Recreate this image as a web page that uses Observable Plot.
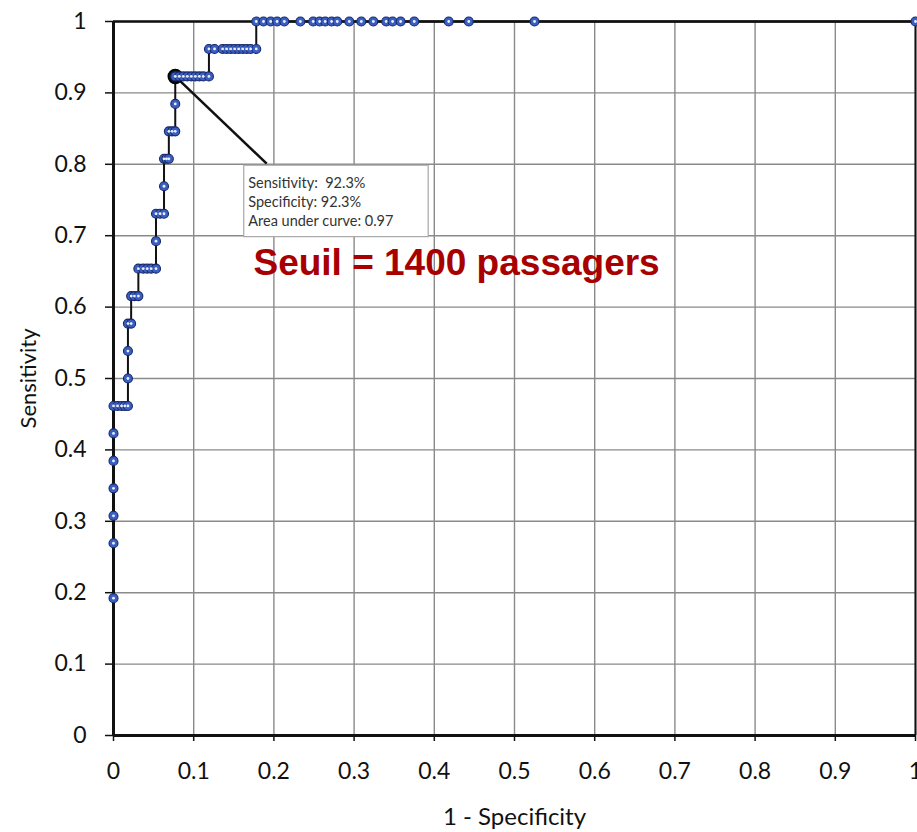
<!DOCTYPE html>
<html>
<head>
<meta charset="utf-8">
<script src="https://cdn.jsdelivr.net/npm/d3@7"></script>
<script src="https://cdn.jsdelivr.net/npm/@observablehq/plot@0.6"></script>
<style>
  html, body { margin: 0; padding: 0; background: #fff; }
  #chart { width: 917px; height: 832px; overflow: hidden; }
</style>
</head>
<body>
<div id="chart"></div>
<script>
// ---- Data ----
const nPositives = 26;
// 1 - specificity for each ROC point
const fpr = [
  0, 0, 0, 0, 0, 0,
  0, 0.005, 0.010, 0.014, 0.018,
  0.018, 0.018,
  0.018, 0.022,
  0.022, 0.026, 0.031,
  0.031, 0.037, 0.042, 0.047, 0.053,
  0.053,
  0.053, 0.058, 0.063,
  0.063,
  0.063, 0.066, 0.069,
  0.069, 0.073, 0.077,
  0.077,
  0.077, 0.082, 0.087, 0.092, 0.097, 0.102, 0.107, 0.112, 0.119,
  0.119, 0.126, 0.136, 0.141, 0.146, 0.151, 0.156, 0.161, 0.166, 0.171, 0.178,
  0.178, 0.187, 0.196, 0.204, 0.213, 0.233, 0.249, 0.257, 0.264, 0.272, 0.279,
  0.294, 0.309, 0.324, 0.340, 0.348, 0.358, 0.375, 0.418, 0.443, 0.525, 1
];
// number of true positives detected at each ROC point (out of 26)
const truePos = [
  5, 7, 8, 9, 10, 11,
  12, 12, 12, 12, 12,
  13, 14,
  15, 15,
  16, 16, 16,
  17, 17, 17, 17, 17,
  18,
  19, 19, 19,
  20,
  21, 21, 21,
  22, 22, 22,
  23,
  24, 24, 24, 24, 24, 24, 24, 24, 24,
  25, 25, 25, 25, 25, 25, 25, 25, 25, 25, 25,
  26, 26, 26, 26, 26, 26, 26, 26, 26, 26, 26,
  26, 26, 26, 26, 26, 26, 26, 26, 26, 26, 26
];
const axisTicks = [0, 0.1, 0.2, 0.3, 0.4, 0.5, 0.6, 0.7, 0.8, 0.9, 1];
const cutoffPoint = [{fpr: 0.077, sens: 24 / 26}];
const calloutLines = ["Sensitivity:  92.3%", "Specificity: 92.3%", "Area under curve: 0.97"];
const thresholdLabel = "Seuil = 1400 passagers";
const xTitle = "1 - Specificity";
const yTitle = "Sensitivity";

const roc = fpr.map((f, i) => ({fpr: f, sens: truePos[i] / nPositives}));

// ---- Callout geometry (data coordinates) ----
const boxX1 = 0.163, boxX2 = 0.393, boxY1 = 0.698, boxY2 = 0.798;
const calloutText = calloutLines.map((t, i) => ({t, x: 0.168, y: 0.773 - i * 0.0265}));

const fmt = d => d === 0 ? "0" : d === 1 ? "1" : d.toFixed(1);

const chart = Plot.plot({
  width: 917,
  height: 832,
  marginLeft: 113,
  marginRight: 2,
  marginTop: 21,
  marginBottom: 97,
  x: {domain: [0, 1]},
  y: {domain: [0, 1]},
  style: {fontFamily: "Lato, 'Open Sans', sans-serif", fontSize: "23px", color: "#111", background: "white", overflow: "visible"},
  marks: [
    Plot.gridX(axisTicks, {stroke: "#8a8a8a", strokeOpacity: 1, strokeWidth: 1.4}),
    Plot.gridY(axisTicks, {stroke: "#8a8a8a", strokeOpacity: 1, strokeWidth: 1.4}),
    Plot.axisX(axisTicks, {tickSize: 6, tickPadding: 21, tickFormat: fmt, label: null, strokeWidth: 1.5}),
    Plot.axisY(axisTicks, {tickSize: 8, tickPadding: 19, tickFormat: fmt, label: null, strokeWidth: 1.5}),
    Plot.ruleX([0], {stroke: "#111", strokeWidth: 3}),
    Plot.ruleX([1], {stroke: "#111", strokeWidth: 2}),
    Plot.ruleY([0], {stroke: "#111", strokeWidth: 3}),
    Plot.ruleY([1], {stroke: "#111", strokeWidth: 2.5}),
    Plot.text([xTitle], {frameAnchor: "bottom", textAnchor: "middle", lineAnchor: "middle", dy: 82, fontSize: 24, fill: "#111"}),
    Plot.text([yTitle], {frameAnchor: "left", textAnchor: "middle", lineAnchor: "middle", dx: -85, rotate: -90, fontSize: 22, fill: "#111"}),
    // callout leader line
    Plot.link(cutoffPoint, {x1: "fpr", y1: "sens", x2: () => 0.191, y2: () => boxY2 + 0.003, stroke: "#111", strokeWidth: 2.5}),
    // ROC curve
    Plot.line(roc, {x: "fpr", y: "sens", stroke: "#111", strokeWidth: 2}),
    Plot.dot(cutoffPoint, {x: "fpr", y: "sens", r: 7, fill: "#111", stroke: "#000"}),
    Plot.dot(roc, {x: "fpr", y: "sens", r: 4.5, fill: "#3a5fc2", stroke: "#17286a", strokeWidth: 1.1}),
    Plot.dot(roc, {x: "fpr", y: "sens", r: 1.4, fill: "white", fillOpacity: 0.9}),
    // callout box
    Plot.rect([0], {x1: boxX1, x2: boxX2, y1: boxY1, y2: boxY2, fill: "white", stroke: "#a8a8a8", strokeWidth: 1.2}),
    Plot.text(calloutText, {x: "x", y: "y", text: "t", textAnchor: "start", fontSize: 14.5, fill: "#333"}),
    Plot.text([thresholdLabel], {x: () => 0.1745, y: () => 0.661, textAnchor: "start", fontSize: 37, fontWeight: "bold", fill: "#a80000", fontFamily: "'Liberation Sans', Arial, sans-serif"})
  ]
});
document.getElementById("chart").appendChild(chart);
</script>
</body>
</html>
